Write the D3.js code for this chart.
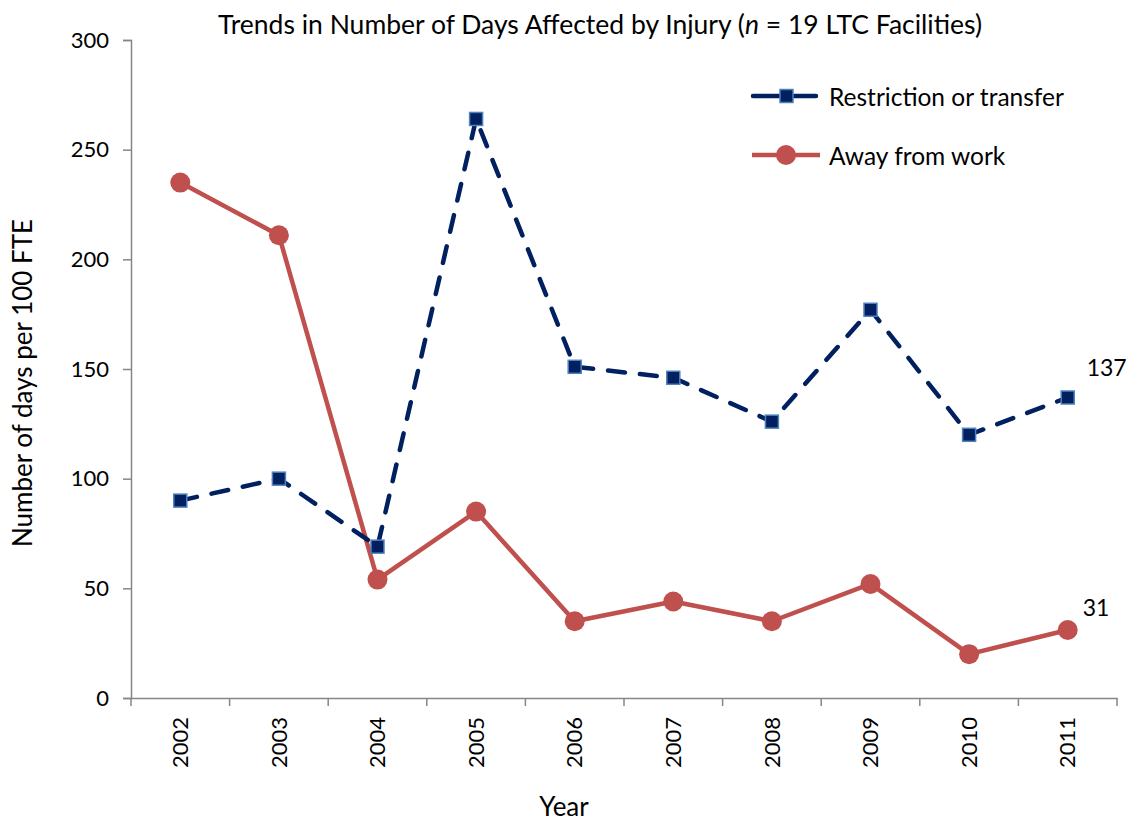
<!DOCTYPE html>
<html><head><meta charset="utf-8">
<script src="https://cdn.jsdelivr.net/npm/d3@7"></script>
<style>body{margin:0;background:#fff;} svg{display:block;font-family:Lato,"Open Sans",sans-serif;}</style>
</head><body>
<svg id="chart" width="1129" height="824"></svg>
<script>
const years = ["2002","2003","2004","2005","2006","2007","2008","2009","2010","2011"];
const restriction = [90, 100, 69, 264, 151, 146, 126, 177, 120, 137];
const away = [235, 211, 54, 85, 35, 44, 35, 52, 20, 31];
const yTicks = [0, 50, 100, 150, 200, 250, 300];
const seriesNames = ["Restriction or transfer", "Away from work"];

(function () {
const svg = d3.select("#chart");
const pL = 131, pR = 1117, pT = 40, pB = 698;
const x = d3.scaleBand().domain(years).range([pL, pR]);
const y = d3.scaleLinear().domain([0, 300]).range([pB, pT]);
const axisColor = "#868686";
const blue = "#002060", blueEdge = "#4f81bd", red = "#c0504d";

// Y axis
const ya = svg.append("g").attr("transform", `translate(${pL},0)`)
  .call(d3.axisLeft(y).tickValues(yTicks).tickSize(8).tickPadding(14));
ya.select(".domain").attr("stroke", axisColor).attr("stroke-width", 1.5);
ya.selectAll(".tick line").attr("stroke", axisColor).attr("stroke-width", 1.5);
ya.selectAll(".tick text").attr("font-size", 22).attr("fill", "#000").attr("font-family", "Lato");

// X axis
const xa = svg.append("g").attr("transform", `translate(0,${pB})`)
  .call(d3.axisBottom(x).tickSize(0).tickSizeOuter(0));
xa.select(".domain").attr("stroke", axisColor).attr("stroke-width", 1.5);
xa.selectAll(".tick text")
  .attr("font-size", 22).attr("fill", "#000").attr("font-family", "Lato")
  .attr("transform", "rotate(-90)").attr("text-anchor", "end")
  .attr("x", -19).attr("y", 0).attr("dy", "0.35em");
const bounds = years.map(d => x(d)).concat([pR]);
svg.append("g").selectAll("line").data(bounds).join("line")
  .attr("x1", d => d).attr("x2", d => d).attr("y1", pB).attr("y2", pB + 8)
  .attr("stroke", axisColor).attr("stroke-width", 1.5);

const cx = d => x(d) + x.bandwidth() / 2;
const line = d3.line().x((d, i) => cx(years[i])).y(d => y(d));

// Away from work
svg.append("path").datum(away).attr("d", line)
  .attr("fill", "none").attr("stroke", red).attr("stroke-width", 4.5).attr("stroke-linejoin", "round");
svg.append("g").selectAll("circle").data(away).join("circle")
  .attr("cx", (d, i) => cx(years[i])).attr("cy", d => y(d)).attr("r", 10).attr("fill", red);

// Restriction
svg.append("path").datum(restriction).attr("d", line)
  .attr("fill", "none").attr("stroke", blue).attr("stroke-width", 4.5)
  .attr("stroke-dasharray", "17,15").attr("stroke-linecap", "round");
svg.append("g").selectAll("rect").data(restriction).join("rect")
  .attr("x", (d, i) => cx(years[i]) - 6.5).attr("y", d => y(d) - 6.5)
  .attr("width", 13).attr("height", 13).attr("fill", blue)
  .attr("stroke", blueEdge).attr("stroke-width", 1.5);

// End labels
svg.append("text").attr("x", cx("2011") + 19).attr("y", y(restriction[9]) - 22)
  .attr("font-size", 23).text(restriction[restriction.length - 1]);
svg.append("text").attr("x", cx("2011") + 15).attr("y", y(away[9]) - 14)
  .attr("font-size", 23).text(away[away.length - 1]);

// Title
const title = svg.append("text").attr("x", 600).attr("y", 34).attr("text-anchor", "middle")
  .attr("font-size", 26.5);
title.append("tspan").text("Trends in Number of Days Affected by Injury (");
title.append("tspan").attr("font-style", "italic").text("n");
title.append("tspan").text(" = 19 LTC Facilities)");

// Axis titles
svg.append("text").attr("transform", "translate(32,383) rotate(-90)").attr("text-anchor", "middle")
  .attr("font-size", 26).text("Number of days per 100 FTE");
svg.append("text").attr("x", 564).attr("y", 816).attr("text-anchor", "middle")
  .attr("font-size", 26).text("Year");

// Legend
const lg = svg.append("g");
lg.append("line").attr("x1", 753).attr("x2", 816).attr("y1", 96).attr("y2", 96)
  .attr("stroke", blue).attr("stroke-width", 4.5).attr("stroke-linecap", "round");
lg.append("rect").attr("x", 780).attr("y", 89.5).attr("width", 13).attr("height", 13)
  .attr("fill", blue).attr("stroke", blueEdge).attr("stroke-width", 1.5);
lg.append("text").attr("x", 829).attr("y", 97).attr("dy", "0.35em").attr("font-size", 24.5).text(seriesNames[0]);
lg.append("line").attr("x1", 752).attr("x2", 820).attr("y1", 155).attr("y2", 155)
  .attr("stroke", red).attr("stroke-width", 4.5);
lg.append("circle").attr("cx", 786).attr("cy", 155).attr("r", 10).attr("fill", red);
lg.append("text").attr("x", 829).attr("y", 156).attr("dy", "0.35em").attr("font-size", 24.5).text(seriesNames[1]);
})();
</script>
</body></html>
